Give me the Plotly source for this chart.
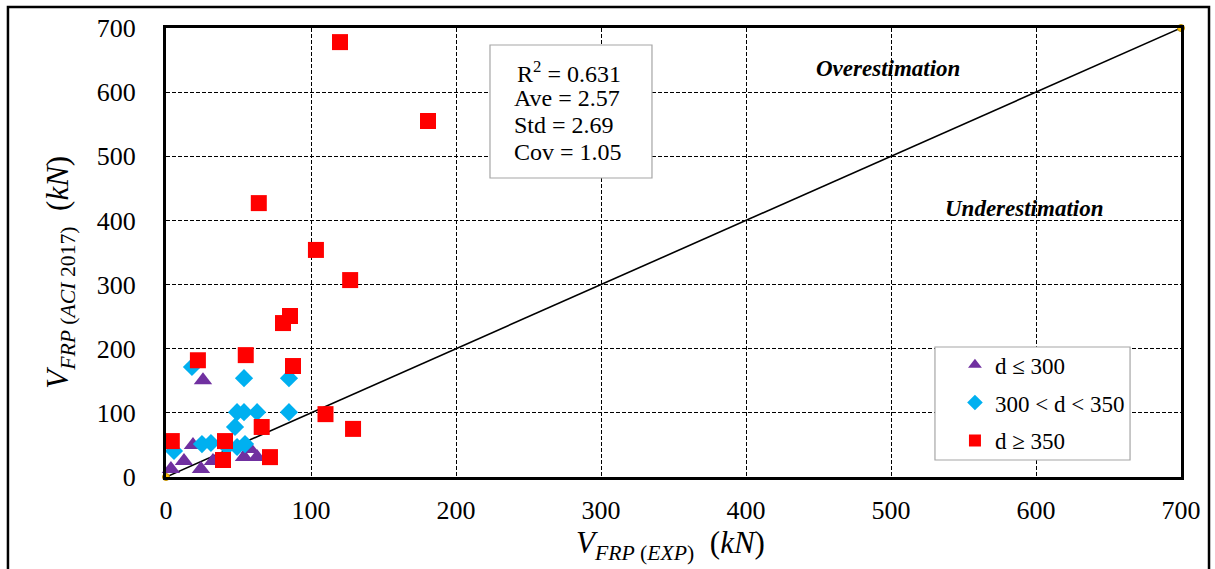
import plotly.graph_objects as go

# Shear contribution of FRP: experimental vs ACI 2017 prediction (kN)
tri_x = [25.5, 18.6, 12.4, 3.4, 24.1, 32.4, 58.0, 53.8, 62.8]
tri_y = [151, 50, 25, 12.5, 12.5, 25, 43.6, 31, 31]

dia_x = [17.9, 53.8, 84.8, 49, 53.8, 62.8, 84.8, 47.6, 24.8, 31, 49, 54.5, 5.5, 42]
dia_y = [171.5, 154, 154, 101, 101, 101, 101, 78, 51.4, 53, 46.8, 51.4, 40.5, 47]

sq_x = [120, 180.7, 64, 103.4, 127, 85.5, 80.7, 22, 55, 87.6, 110, 129, 66, 4, 40.7, 39.3, 71.7]
sq_y = [678, 555, 427, 354, 307, 251, 240, 182, 190, 173, 98, 75, 78, 56, 56, 26.5, 31]

ref_line = [0, 700]
ticks = [0, 100, 200, 300, 400, 500, 600, 700]

stats = ["R<sup>2</sup> = 0.631", "Ave = 2.57", "Std = 2.69", "Cov = 1.05"]

SERIF = "Liberation Serif"

fig = go.Figure()

# 1:1 reference line
fig.add_trace(go.Scatter(
    x=ref_line, y=ref_line, mode="lines+markers",
    line=dict(color="black", width=1.6),
    marker=dict(color="#FFC000", size=7, line=dict(color="#C09000", width=1)),
    showlegend=False, cliponaxis=False, hoverinfo="skip",
))

fig.add_trace(go.Scatter(
    x=tri_x, y=tri_y, mode="markers", name="d ≤ 300", legendgroup="a",
    marker=dict(symbol="triangle-up", size=16, color="#7030A0"),
    cliponaxis=False,
))
fig.add_trace(go.Scatter(
    x=dia_x, y=dia_y, mode="markers", name="300 < d < 350", legendgroup="b",
    marker=dict(symbol="diamond", size=14, color="#00B0F0"),
    cliponaxis=False,
))
fig.add_trace(go.Scatter(
    x=sq_x, y=sq_y, mode="markers", name="d ≥ 350", legendgroup="c",
    marker=dict(symbol="square", size=16, color="#FF0000"),
    cliponaxis=False,
))

axis_common = dict(
    range=[0, 700], tickvals=ticks, ticktext=[str(t) for t in ticks],
    showgrid=True, gridcolor="black", gridwidth=1, griddash="4px,2px",
    showline=True, linecolor="black", linewidth=3, mirror=True,
    zeroline=False, ticks="",
    tickfont=dict(family=SERIF, size=26, color="black"),
)
fig.update_xaxes(**axis_common, ticklabelstandoff=8)
fig.update_yaxes(**axis_common, ticklabelstandoff=22)

shapes = [
    # outer frame
    dict(type="rect", xref="paper", yref="paper",
         x0=-0.1557, x1=1.0276, y0=-0.4, y1=1.0468,
         line=dict(color="black", width=2.5), fillcolor="rgba(0,0,0,0)", layer="above"),
    # statistics box
    dict(type="rect", xref="paper", yref="paper",
         x0=0.3192, x1=0.4788, y0=0.6659, y1=0.9621,
         line=dict(color="#A6A6A6", width=1.2), fillcolor="white", layer="above"),
    # legend box
    dict(type="rect", xref="paper", yref="paper",
         x0=0.7576, x1=0.9498, y0=0.0379, y1=0.2895,
         line=dict(color="#A6A6A6", width=1.2), fillcolor="white", layer="above"),
]

annotations = []
stat_y = [0.902, 0.8441, 0.784, 0.7238]
stat_x = [0.3438, 0.3409, 0.3409, 0.3409]
for txt, sx, sy in zip(stats, stat_x, stat_y):
    annotations.append(dict(
        text=txt, xref="paper", yref="paper", x=sx, y=sy,
        xanchor="left", yanchor="middle", showarrow=False,
        font=dict(family=SERIF, size=24, color="black"),
    ))

annotations += [
    dict(text="<b><i>Overestimation</i></b>", x=497.6, y=637.6, xref="x", yref="y",
         showarrow=False, font=dict(family=SERIF, size=23, color="black")),
    dict(text="<b><i>Underestimation</i></b>", x=592, y=419, xref="x", yref="y",
         showarrow=False, font=dict(family=SERIF, size=23, color="black")),
    dict(text="<i>V</i><sub><i>FRP</i> (<i>EXP</i>)</sub>  (<i>kN</i>)",
         xref="paper", yref="paper", x=0.4975, y=-0.152,
         xanchor="center", yanchor="middle", showarrow=False,
         font=dict(family=SERIF, size=31, color="black")),
    dict(text="<i>V</i><sub><i>FRP</i> (<i>ACI</i> 2017)</sub>  (<i>kN</i>)",
         xref="paper", yref="paper", x=-0.1044, y=0.455, textangle=-90,
         xanchor="center", yanchor="middle", showarrow=False,
         font=dict(family=SERIF, size=31, color="black")),
]

fig.update_layout(
    width=1215, height=569,
    margin=dict(l=166, r=34, t=28, b=92),
    paper_bgcolor="white", plot_bgcolor="white",
    shapes=shapes, annotations=annotations,
    legend=dict(
        x=0.7773, y=0.298, xanchor="left", yanchor="top",
        bgcolor="rgba(0,0,0,0)", borderwidth=0,
        font=dict(family=SERIF, size=23, color="black"),
        itemsizing="constant", tracegroupgap=5,
    ),
    showlegend=True,
)

fig.write_html("out.html")
